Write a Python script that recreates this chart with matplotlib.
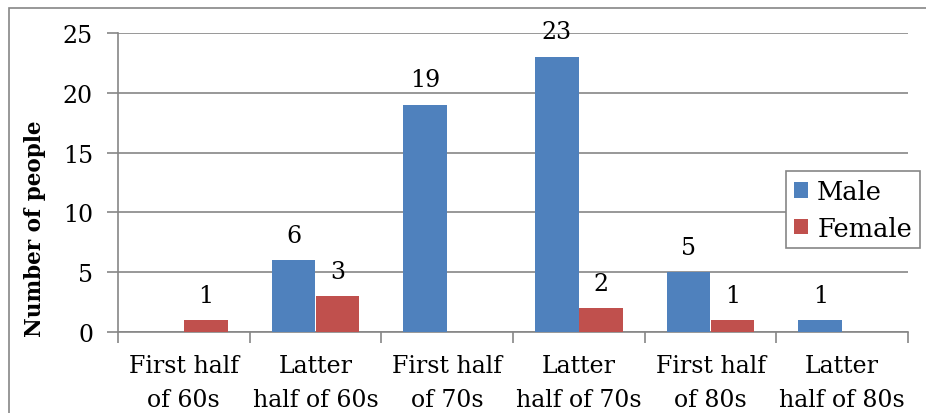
import matplotlib
matplotlib.use('Agg')
import matplotlib.pyplot as plt
import numpy as np
from matplotlib.patches import Rectangle

# data
categories = ["First half\nof 60s", "Latter\nhalf of 60s", "First half\nof 70s",
              "Latter\nhalf of 70s", "First half\nof 80s", "Latter\nhalf of 80s"]
male = [0, 6, 19, 23, 5, 1]
female = [1, 3, 0, 2, 1, 0]
male_labels = [None, 6, 19, 23, 5, 1]
female_labels = [1, 3, None, 2, 1, None]

plt.rcParams['font.family'] = ['DejaVu Serif']
grey = "#868686"
fs = 17

fig = plt.figure(figsize=(9.26, 4.14), dpi=100)
ax = fig.add_axes([118/926, 1-333/414, 790/926, 299/414])

# outer chart border (cropped on right/bottom)
fig.patches.append(Rectangle((9/926, -0.1), 1.2, 1-9/414+0.1, transform=fig.transFigure,
                             fill=False, edgecolor=grey, linewidth=1.2))

x = np.arange(len(categories))
w = 1/3
b1 = ax.bar(x - w/2, male, w, color="#4F81BD", label="Male", zorder=3)
b2 = ax.bar(x + w/2, female, w, color="#C0504D", label="Female", zorder=3)

def add_labels(bars, labels):
    for rect, lab in zip(bars, labels):
        if lab is not None:
            ax.annotate(str(lab), (rect.get_x() + rect.get_width()/2, rect.get_height()),
                        xytext=(0, 18), textcoords="offset points", ha="center",
                        va="center", fontsize=fs, zorder=4)

add_labels(b1, male_labels)
add_labels(b2, female_labels)

ax.set_xlim(-0.5, len(categories) - 0.5)
ax.set_ylim(0, 25)
ax.set_yticks([0, 5, 10, 15, 20, 25])
ax.yaxis.grid(True, color=grey, linewidth=1.2, zorder=0)
ax.set_axisbelow(True)

# category ticks between groups, labels at centers
ax.set_xticks(np.arange(-0.5, len(categories)), minor=False)
ax.set_xticklabels([])
ax.set_xticks(x, minor=True)
ax.set_xticklabels(categories, minor=True, fontsize=fs, linespacing=1.6)
ax.tick_params(axis="x", which="minor", length=0, pad=16)
ax.tick_params(axis="x", which="major", length=8, color=grey, width=1.2)
ax.tick_params(axis="y", length=8, color=grey, width=1.2, labelsize=fs, pad=10)

for s in ["top", "right"]:
    ax.spines[s].set_visible(False)
for s in ["left", "bottom"]:
    ax.spines[s].set_color(grey)
    ax.spines[s].set_linewidth(1.2)

fig.text(35/926, 1-229/414, "Number of people", rotation=90, ha="center", va="center",
         fontsize=15.5, fontweight="bold")

leg = ax.legend(loc="upper left", bbox_to_anchor=(0.846, 0.537), fontsize=18.5,
                fancybox=False, edgecolor=grey, framealpha=1,
                handlelength=0.55, handleheight=0.55, handletextpad=0.35,
                borderpad=0.3, labelspacing=0.45, borderaxespad=0)
leg.get_frame().set_linewidth(1.2)

fig.savefig("out.png", dpi=100)
